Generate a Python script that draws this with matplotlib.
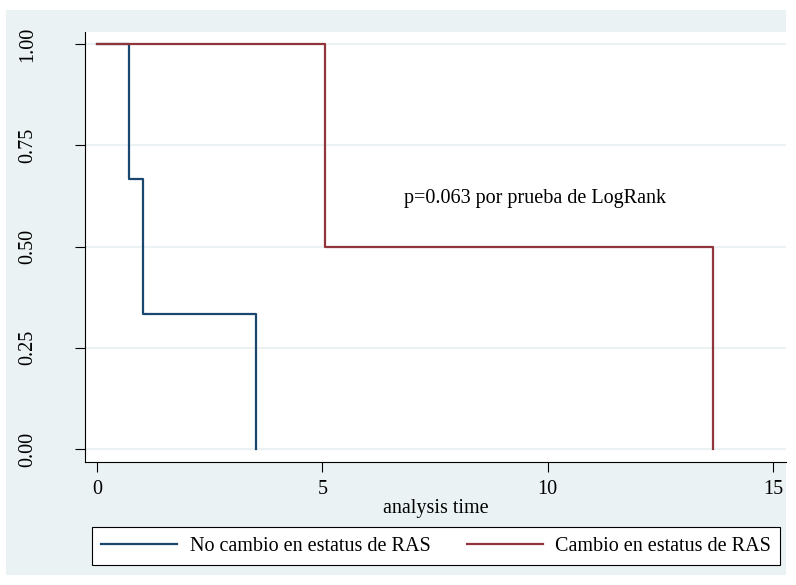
import matplotlib
matplotlib.use("Agg")
import matplotlib.pyplot as plt

# Kaplan-Meier step data
t_no = [0, 0.71, 1.02, 3.52]
s_no = [1.0, 0.6667, 0.3333, 0.0]
t_si = [0, 5.07, 13.68]
s_si = [1.0, 0.5, 0.0]

yticks = [0, 0.25, 0.5, 0.75, 1.0]
ytick_labels = ["0.00", "0.25", "0.50", "0.75", "1.00"]
xticks = [0, 5, 10, 15]
labels = ["No cambio en estatus de RAS", "Cambio en estatus de RAS"]
note = "p=0.063 por prueba de LogRank"

plt.rcParams['font.family'] = ['Liberation Serif', 'DejaVu Serif']

bg = '#EAF2F3'
fig = plt.figure(figsize=(7.96, 5.85), dpi=100)
fig.patch.set_facecolor('white')

# outer stata-style background panel
bgax = fig.add_axes([6/796, 10/585, (786-6)/796, (575-10)/585], zorder=-1)
bgax.set_facecolor(bg)
bgax.set_xticks([])
bgax.set_yticks([])
for s in bgax.spines.values():
    s.set_visible(False)

ax = fig.add_axes([85/796, 1 - 462/585, (786-85)/796, (462-32)/585])
ax.set_facecolor('white')

ax.step(t_no + [t_no[-1]], s_no + [0.0], where='post', color='#1A476F', lw=1.6,
        label=labels[0])
ax.step(t_si, s_si, where='post', color='#90353B', lw=1.6, label=labels[1])

ax.set_xlim(-0.266, 15.29)
ax.set_ylim(-0.032, 1.03)
ax.set_yticks(yticks)
ax.set_yticklabels(ytick_labels, rotation=90, va='center')
ax.set_xticks(xticks)
for y in yticks:
    ax.axhline(y, color=bg, lw=1.5, zorder=0)

ax.spines['top'].set_visible(False)
ax.spines['right'].set_visible(False)
ax.tick_params(axis='both', direction='out', length=7, width=0.8, labelsize=14.5)
ax.tick_params(axis='y', pad=27.5)
ax.tick_params(axis='x', pad=6)

ax.set_xlabel("analysis time", fontsize=14.5, labelpad=0)
ax.text(9.71, 0.62, note, fontsize=14.5, ha='center', va='center')

leg = fig.legend(loc='center', bbox_to_anchor=(436/796, 1 - 546/585), ncol=2,
                 fontsize=14.5, frameon=True, fancybox=False, edgecolor='black',
                 facecolor='white', framealpha=1,
                 handlelength=3.8, handletextpad=0.6, columnspacing=1.8,
                 borderpad=0.45, borderaxespad=0)
leg.get_frame().set_linewidth(0.8)

fig.savefig("out.png", dpi=100, facecolor='white')
